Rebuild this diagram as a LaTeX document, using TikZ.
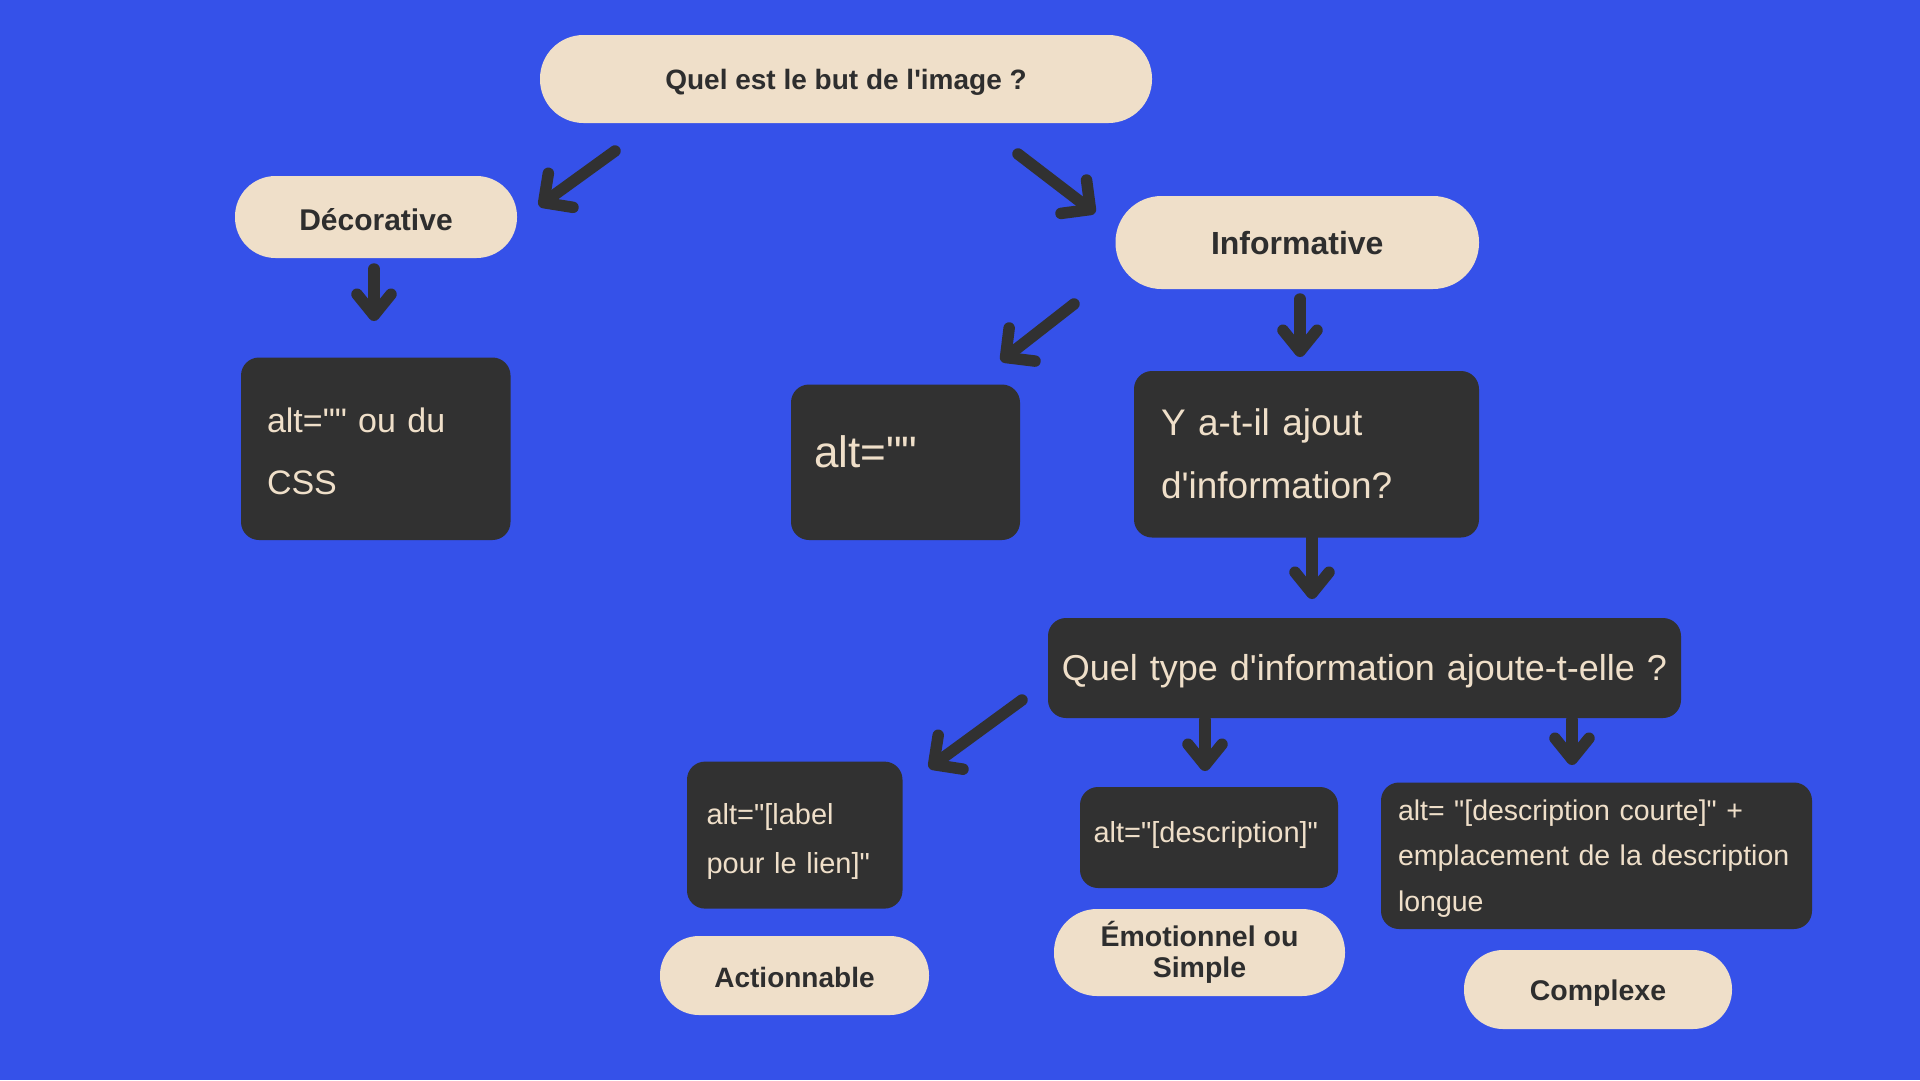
\documentclass[tikz,border=0pt]{standalone}
\usepackage{fontspec}
\setmainfont{Liberation Sans}
\usetikzlibrary{arrows.meta}

\definecolor{bgblue}{RGB}{53,81,233}
\definecolor{cream}{RGB}{239,223,201}
\definecolor{ink}{RGB}{49,49,49}
\definecolor{txtdark}{RGB}{46,46,46}

\newcommand\fsz[2]{\fontsize{#1pt}{#2pt}\selectfont}
% straight quote marks
\newcommand\dq{\textquotedbl}
\newcommand\sq{\textquotesingle}
% invisible strut that sets the height of a first line
\newcommand\lift[1]{\rule{0pt}{#1}}

\begin{document}
\begin{tikzpicture}[x=1pt,y=-1pt,
  pill/.style={fill=cream, text=txtdark, inner sep=0pt, align=center},
  onepill/.style={pill, text height=#1, text depth=0pt},
  darkbox/.style={fill=ink, text=cream, rounded corners=18pt, inner ysep=0pt, align=left},
  flow/.style={draw=ink, line width=11.5pt, line cap=round, line join=round,
    -{Straight Barb[length=21pt,width=34pt,round]}},
  slant/.style={flow, -{Straight Barb[length=21pt,width=42pt,round]}},
]
% background
\fill[bgblue] (0,0) rectangle (1920,1080);

% ---- rounded question / category pills ----
\node[onepill=20pt, minimum width=612pt, minimum height=88pt, rounded corners=43.5pt,
      font=\fsz{28}{34}\bfseries] (goal) at (846,79) {Quel est le but de l\sq image ?};
\node[onepill=26pt, minimum width=282pt, minimum height=82pt, rounded corners=40.5pt,
      font=\fsz{30}{36}\bfseries] (deco) at (376,217) {Décorative};
\node[onepill=23pt, minimum width=363.5pt, minimum height=93pt, rounded corners=46pt,
      font=\fsz{32}{38}\bfseries] (info) at (1297.25,242.5) {Informative};
\node[onepill=23pt, minimum width=269pt, minimum height=79pt, rounded corners=39pt,
      font=\fsz{28}{34}\bfseries] (action) at (794.5,975.5) {Actionnable};
\node[pill, minimum width=291pt, minimum height=87pt, rounded corners=43pt,
      font=\fsz{28.5}{31.6}\bfseries] (emo) at (1199.5,952.5) {Émotionnel ou\\Simple};
\node[onepill=22.5pt, minimum width=268pt, minimum height=79pt, rounded corners=39pt,
      font=\fsz{28.5}{34}\bfseries] (complex) at (1598,989.5) {Complexe};

% ---- dark answer boxes ----
\node[darkbox, minimum width=269.5pt, minimum height=182.5pt, inner xsep=26pt, text width=217.5pt,
      font=\fsz{34}{62}] (decoalt) at (375.75,448.75) {\lift{29pt}alt=\dq\dq\ ou du\\CSS};
\node[darkbox, minimum width=229pt, minimum height=155.5pt, inner xsep=23pt, text width=183pt,
      text height=32pt, text depth=22pt, font=\fsz{44}{50}] (emptyalt) at (905.5,462.25) {alt=\dq\dq};
\node[darkbox, minimum width=345pt, minimum height=166.5pt, inner xsep=27pt, text width=291pt,
      font=\fsz{37}{63}] (added) at (1306.5,454.25) {Y a-t-il ajout\\d\sq information?};
\node[darkbox, minimum width=633pt, minimum height=100pt, inner xsep=10pt, text width=613pt,
      align=center, text height=33pt, text depth=8pt,
      font=\fsz{36}{42}] (kind) at (1364.5,668) {Quel type d\sq information ajoute-t-elle ?};
\node[darkbox, minimum width=215.5pt, minimum height=147pt, inner xsep=19.5pt, text width=176.5pt,
      font=\fsz{29}{49}] (linkalt) at (794.75,835.1) {\lift{33pt}alt=\dq[label\\pour le lien]\dq};
\node[darkbox, minimum width=258pt, minimum height=101pt, inner xsep=13.5pt, text width=231pt,
      text height=20pt, text depth=10pt,
      font=\fsz{29}{35}] (descalt) at (1209,837.5) {alt=\dq[description]\dq};
\node[darkbox, minimum width=431pt, minimum height=146.5pt, inner xsep=17pt, text width=397pt,
      font=\fsz{28.5}{45.3}] (longalt) at (1596.5,855.75) {\lift{26pt}alt= \dq[description courte]\dq\ +\\emplacement de la description\\longue};

% ---- arrow end points ----
\coordinate (a1s) at (615,151);   \coordinate (a1e) at (539,206);
\coordinate (a2s) at (1018,154);  \coordinate (a2e) at (1095,213);
\coordinate (a3s) at (374,269);   \coordinate (a3e) at (374,321);
\coordinate (a4s) at (1074,304);  \coordinate (a4e) at (1001,361);
\coordinate (a5s) at (1300,299);  \coordinate (a5e) at (1300,357);
\coordinate (a6s) at (1312,538);  \coordinate (a6e) at (1312,599);
\coordinate (a7s) at (1022,700);  \coordinate (a7e) at (929,768);
\coordinate (a8s) at (1205,720);  \coordinate (a8e) at (1205,771);
\coordinate (a9s) at (1572,720);  \coordinate (a9e) at (1572,765);

% ---- arrows ----
\draw[slant] (a1s) -- (a1e);
\draw[slant] (a2s) -- (a2e);
\draw[flow]  (a3s) -- (a3e);
\draw[slant] (a4s) -- (a4e);
\draw[flow]  (a5s) -- (a5e);
\draw[flow]  (a6s) -- (a6e);
\draw[slant] (a7s) -- (a7e);
\draw[flow]  (a8s) -- (a8e);
\draw[flow]  (a9s) -- (a9e);
\end{tikzpicture}
\end{document}
